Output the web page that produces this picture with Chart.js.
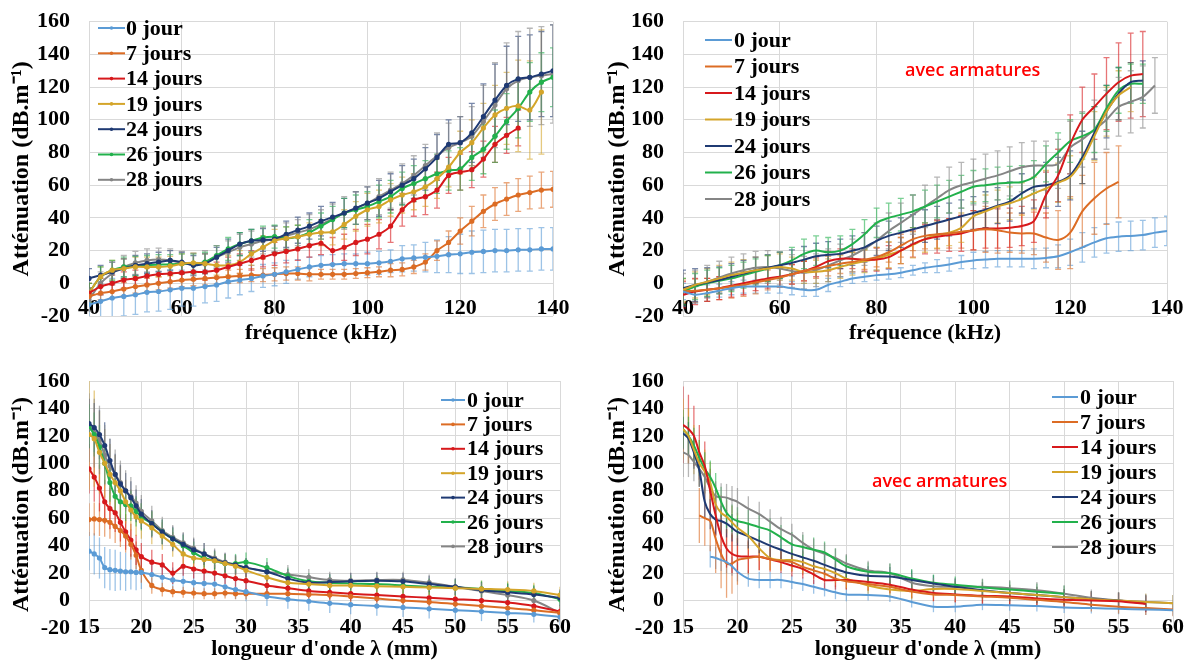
<!DOCTYPE html>
<html>
<head>
<meta charset="utf-8">
<script src="https://cdn.jsdelivr.net/npm/chart.js@4.4.0/dist/chart.umd.min.js"></script>
<style>
  body { margin: 0; background: #fff; width: 1192px; height: 663px; overflow: hidden; position: relative; }
  canvas { position: absolute; }
</style>
</head>
<body>
<canvas id="c1"></canvas>
<canvas id="c2"></canvas>
<canvas id="c3"></canvas>
<canvas id="c4"></canvas>
<script>
// series
const seriesNames = ['0 jour', '7 jours', '14 jours', '19 jours', '24 jours', '26 jours', '28 jours'];
const seriesColors = ['#5B9BD5', '#DC6C24', '#D7191C', '#D4A52A', '#1F3A73', '#22B14C', '#858585'];

// x values
const freq = [40, 42.5, 45, 47.5, 50, 52.5, 55, 57.5, 60, 62.5, 65, 67.5, 70, 72.5, 75, 77.5, 80, 82.5, 85, 87.5, 90,
  92.5, 95, 97.5, 100, 102.5, 105, 107.5, 110, 112.5, 115, 117.5, 120, 122.5, 125, 127.5, 130, 132.5, 135, 137.5, 140];
const lambda = [15, 15.5, 16, 16.5, 17, 17.5, 18, 18.5, 19, 19.5, 20, 21, 22, 23, 24, 25, 26, 27, 28, 29, 30,
  32, 34, 36, 38, 40, 42.5, 45, 47.5, 50, 52.5, 55, 57.5, 60];

// attenuation vs frequency, sans armatures
const freqSans = [
  [-13,-11,-9,-8,-7,-5.5,-5,-4,-3,-3,-2,-1,1,2,3,4.5,5.5,7,8.5,10,11,11.5,12,12,12,12.5,13.5,15,15.5,16,16.5,17.5,18,19,19.5,20,20,20.5,20.5,21,21],
  [-8,-6,-5,-3.5,-2,-1,0,1,2,2.5,3,3.5,4,4.5,5,5,5.5,6,6,5.5,5.5,5.5,5.5,6,6.5,7,8,8.5,10,13,20,25,32,38,44,48.5,51.5,54,55.5,57,57.5],
  [-6,-2,0,2,3,4.5,5.5,6,6.5,7,7,8,10,12,14,16,18,19.5,21,23,24.5,20,22,25,27,30,35,45,51,53,57,66,68,69.5,76,85,90.5,95,null,null,null],
  [-6,4,8,9,10,10,10,10.5,12,12.5,12,11,11,13,18,22,26,27.5,28.5,30,31,31.5,36,41,45,47,51,54,56,59,64,71,80,86,95,103,107,108.5,106,117,null],
  [3,5,7,9,11,12,13,14,13,11,12,16,20,24,26,26.5,27,30,32.5,35,38,40.5,43,46,49,52,56,60,64,70,77,85,86,92,102,112,121,125,126,128,130],
  [-6,4,8,10,10.5,11,11.5,11.5,12,12,13,17,21,24,26,28,28.5,27.5,28.5,31,35,39,43,45,47,50,53,58,61,64,67,69,70,77,82,90,99,107,117,123,126],
  [-10,0,6,10,12.5,14,14.5,14,12.5,11.5,13,16,19,22,24,26,27,29,31,33,36,39.5,43,46,49,53,57,61,66,72,78,83,86,90,99,109,119,124,126,127,128]
];
const freqSansErr = [
  [10,12,12,12,12,12,12,12,11,11,10,10,10,9,8,7,7,7,6,6,6,6,6,6,7,7,7,8,8,9,10,11,12,13,13,13,13,13,13,13,13],
  [5,4,4,4,4,4,4,4,4,4,4,4,4,4,4,4,4,4,4,4,3,3,3,3,3,3,4,4,4,5,6,7,8,9,10,10,10,10,10,11,11],
  [6,5,5,5,5,5,5,5,5,5,5,5,6,6,6,6,7,7,7,7,7,8,8,8,9,9,10,10,10,11,11,11,11,11,11,11,11,11,null,null,null],
  [6,6,6,6,6,6,6,6,6,6,6,6,6,7,7,7,7,7,7,7,8,8,9,9,10,10,10,11,11,12,12,12,13,14,15,18,22,28,30,38,null],
  [6,6,6,6,6,6,6,6,6,6,6,6,7,7,7,7,8,8,8,8,9,9,9,10,10,11,11,12,12,13,14,15,16,18,20,22,24,26,26,26,28],
  [6,6,6,6,6,6,6,6,6,6,6,6,7,7,7,7,7,7,7,8,8,8,9,9,9,10,10,10,11,11,12,12,13,14,15,16,17,18,18,18,18],
  [7,7,7,7,7,7,7,7,7,7,7,7,7,8,8,8,8,8,8,9,9,9,10,10,10,11,11,12,12,13,14,15,16,18,22,26,28,30,30,30,30]
];

// attenuation vs frequency, avec armatures
const freqArm = [
  [-5,-7,-6,-4.5,-3,-2,-2,-2,-2,-3,-4,-4,-1,1,3,4,5,5.5,6.5,8,9.5,10.5,11.5,13,14,14.5,15,15,15,15,15.5,16.5,19,22,25,27.5,28.5,29,29.5,31,32],
  [-5,-4.5,-4,-3,-2,-1,0.5,2,3.5,5.5,7.5,9,10.5,12,13,14.5,16,19,23,27,29,30,30.5,31.5,32.5,33,32.5,31,30.5,30.5,28,26.5,31,44,52,58,62,null,null,null,null],
  [-7,-5,-4,-3,-1.5,0,1.5,3,4,5.5,7.5,10,13.5,15,15,14.5,14.5,16,20,24,27,28.5,29.5,30.5,32.5,33.5,33.5,34,35,38,54,66,85,100,108,116,123,127,128,null,null],
  [-4,-1,1,3,5,6.5,8,9,10,9,7,7,8,10,12,13.5,15,17.5,20,23.5,27,29.5,31,34,41,44,47,49,51.5,55,58,61.5,65,75,90,105,115,120,null,null,null],
  [-3,-1,0.5,2,4,6,8,9.5,11,12.5,14.5,16.5,17.5,18,20,22,26,29,31,33,35,37,39,41,43,45,47.5,50,55,59,60,62,66,77,92,105,116,123,124,null,null],
  [-5,-2,0,1.5,3,5,7,9,11,14,18,20,19,20,24,30,37,40,42,44,47,50,53,56,59,60,61,61.5,62,65,73,80,87,90,94,107,118,122,122,null,null],
  [-4,-2,1,3.5,6,8,9.5,10,9,7.5,6.5,8,11,14,17,21,26,32,37,42,47,52,57,60,62,64,66,68.5,71,72,72,73,83,88,94,100,108,111,114,121,null]
];
const freqArmErr = [
  [5,5,5,4,4,4,4,4,4,4,4,4,4,3,3,3,3,3,3,3,3,4,4,4,5,5,5,5,5,6,6,7,8,9,9,9,9,9,9,9,9],
  [7,7,7,7,7,7,7,6,6,6,6,6,6,6,6,6,6,6,7,7,8,9,9,10,12,14,14,12,12,13,15,18,22,22,22,22,22,null,null,null,null],
  [8,8,7,7,7,7,6,6,6,6,6,6,6,6,6,7,7,7,8,8,9,10,10,11,12,12,12,12,12,13,14,16,18,20,20,22,24,26,26,null,null],
  [7,8,8,8,8,8,8,8,8,7,7,7,7,7,7,7,7,8,8,8,8,8,8,9,9,10,10,10,10,10,11,12,13,14,15,15,15,15,null,null,null],
  [11,10,9,8,8,8,8,8,8,8,8,8,8,9,9,9,9,9,9,9,10,10,10,10,10,11,11,12,12,13,14,15,15,16,16,16,16,12,12,null,null],
  [8,8,8,8,8,8,8,8,8,8,9,9,9,9,9,9,9,9,10,10,10,10,10,10,10,10,10,10,10,10,11,12,13,14,14,14,14,12,12,null,null],
  [10,10,10,10,10,10,10,10,10,10,10,10,10,10,10,10,11,11,12,12,13,13,14,14,14,15,15,15,15,15,15,15,16,17,18,18,18,19,19,17,null]
];

// attenuation vs wavelength, sans armatures
const lambdaSans = [
  [36,34,31,24,22.5,22,21.5,21,21,20.5,20.5,19,17,15,14,13,12.5,12,10,8,6.5,3,1,-0.5,-2,-3,-4,-5,-6,-7,-8,-9,-10,-12],
  [59,59.5,59,58.5,57,54,51,47,41,33,22,11,8,6.5,6,5.5,5,5,5.5,5,5,5,5,4.5,4,3,1.5,0,-1,-2.5,-4,-5.5,-7,-9],
  [96,90,82,72,67,64,57,50,44,37,32,28,26,20,25,23,21.5,20,18,16,14.5,11,9,7,6,5,4,3,2,1,0,-1.5,-4,-8],
  [121,118,108,100,92,86,80,72,66,61,58,53,47,41,34,31,30,29,27,25,22,17,13,12,11,11,10.5,10,9.5,9,8.5,8,7,4],
  [129,126,121,113,102,92,85,80,75,69,63,56,50,45,41,37,34,30,27.5,26,24,21,16,13,13.5,14,14.5,14,12,10,7.5,6,4.5,2],
  [127,121,112,100,86,76,72,70,69,65,61,56,50,45,40,35,31,29,27,27,28,24,18,14,13,12.5,12,11,10,9.5,8.5,7,5.5,1],
  [126,122,117,106,98,92,86,80,76,71,65,58,51,46,42,38,34,31,28,26,24,21,19,17,15,14.5,15,15,13,10,7,4,0,-9]
];
const lambdaSansErr = [
  [14,15,15,15,15,15,14,14,13,13,12,11,10,9,9,8,8,8,7,7,7,7,7,7,7,7,7,7,7,7,7,7,6,6],
  [12,12,12,12,12,12,12,12,11,10,9,6,5,4,4,4,4,4,4,4,4,4,4,4,4,4,4,4,4,4,4,4,4,4],
  [18,18,17,16,15,14,14,13,12,11,10,9,8,8,7,7,7,6,6,6,6,5,5,5,5,5,5,5,5,5,5,5,5,5],
  [40,35,30,25,22,20,18,16,15,14,13,12,10,9,8,8,7,7,7,7,7,6,6,6,6,6,6,6,6,6,6,6,6,6],
  [18,18,18,17,16,15,14,13,12,12,11,10,9,9,8,8,8,7,7,7,7,7,7,6,6,6,6,6,6,6,6,6,6,6],
  [16,16,16,15,14,13,12,12,11,11,10,9,9,8,8,8,7,7,7,7,7,7,6,6,6,6,6,6,6,6,6,6,6,6],
  [25,25,25,22,20,18,16,15,14,13,12,11,10,9,8,8,8,7,7,7,7,7,7,6,6,6,6,6,6,6,6,6,6,6]
];

// attenuation vs wavelength, avec armatures
const lambdaArm = [
  [null,null,null,null,null,32,31,29.5,28,25,21,16,15,15,15,13.5,12,10,8,6,4.5,4,3,-1,-4.5,-4.5,-3,-3.5,-4,-5,-5.5,-6,-6.5,-7],
  [null,null,null,62,60,58,45,34,27,27,29.5,31,32,30,29,28,24.5,22,19.5,16,14,12,10,6.5,4.5,4,3,2,0.5,-1,-3,-4.5,-5.5,-6.5],
  [128,125,120,108,98,80,62,47,38,34,32.5,32,32,30,28,25.5,23,19,15,15,15,13.5,11.5,8,5.5,4.5,3.5,3,1.5,0.5,0,-0.5,-2.5,null],
  [125,120,110,100,94,86,70,64,61,57,53,47,38,31,29.5,29.5,28,25,23,20,16,11,8,7,8.5,8.5,7,5.5,4,2.5,1,0,-1,-2],
  [122,118,108,95,72,63,59,58,56,53,50,47,43.5,40,37,34,31.5,29,26,23,20.5,18,17.5,15,12.5,10,7.5,5.5,4,2.5,1,0,-2,null],
  [125,120,113,104,96,90,82,72,64,60,58,56,53.5,51,46,41,39,37,35,30,25,21,20,16,13,11.5,9.5,8,6.5,5,null,null,null,null],
  [108,106,101,96,90,82,76,75.5,75,73.5,72,67,63,57.5,52,48,42,37,34,31,27,22,20,13,10.5,10,10,9,7.5,5,2,0,-1,-2]
];
const lambdaArmErr = [
  [null,null,null,null,null,8,8,8,8,7,7,6,6,6,6,5,5,5,5,5,5,4,4,4,4,4,4,4,4,4,4,4,4,4],
  [null,null,null,20,20,22,25,25,25,22,18,12,10,8,7,7,6,6,6,6,6,5,5,5,5,5,5,5,5,5,5,5,5,5],
  [28,25,22,20,18,16,15,15,14,14,13,12,10,9,8,8,7,7,7,7,7,6,6,6,6,6,6,6,6,6,6,6,6,null],
  [22,20,18,17,16,15,14,13,12,12,11,10,9,9,8,8,8,7,7,7,7,6,6,6,6,6,6,6,6,6,6,6,6,6],
  [12,12,12,12,12,11,11,11,10,10,10,9,9,9,8,8,8,8,7,7,7,7,7,7,6,6,6,6,6,6,6,6,6,null],
  [14,14,13,13,12,12,11,11,11,10,10,10,10,9,9,9,9,9,8,8,8,7,7,7,6,6,6,6,6,6,null,null,null,null],
  [18,16,14,13,12,11,11,10,10,10,10,9,9,9,9,8,8,8,8,7,7,7,7,6,6,6,6,6,6,6,6,6,6,6]
];

const yTicks = { min: -20, max: 160, step: 20 };
const noteText = 'avec armatures';

Chart.defaults.font.family = "'Liberation Serif', 'Times New Roman', serif";
Chart.defaults.font.weight = 'bold';
Chart.defaults.color = '#000';

// error bars behind the lines
const errorBars = {
  id: 'errorBars',
  beforeDatasetsDraw(chart, args, opts) {
    const { ctx, chartArea: a, scales: { x, y } } = chart;
    ctx.save();
    ctx.beginPath();
    ctx.rect(a.left, a.top, a.right - a.left, a.bottom - a.top);
    ctx.clip();
    ctx.lineWidth = 1.3;
    chart.data.datasets.forEach(ds => {
      ctx.strokeStyle = ds.borderColor + '99';
      ds.data.forEach((pt, k) => {
        const e = ds.errors[k];
        if (pt.y == null || e == null) return;
        const px = x.getPixelForValue(pt.x);
        const y1 = y.getPixelForValue(pt.y + e);
        const y2 = y.getPixelForValue(pt.y - e);
        ctx.beginPath();
        ctx.moveTo(px, y1);
        ctx.lineTo(px, y2);
        if (opts.caps) {
          ctx.moveTo(px - 3, y1); ctx.lineTo(px + 3, y1);
          ctx.moveTo(px - 3, y2); ctx.lineTo(px + 3, y2);
        }
        ctx.stroke();
      });
    });
    ctx.restore();
  }
};

// legend drawn inside the plot
const boxLegend = {
  id: 'boxLegend',
  afterDraw(chart, args, o) {
    const ctx = chart.ctx;
    ctx.save();
    ctx.font = "bold 22px 'Liberation Serif'";
    ctx.textBaseline = 'middle';
    chart.data.datasets.forEach((ds, i) => {
      const yy = o.y + i * o.dy;
      ctx.strokeStyle = ds.borderColor;
      ctx.lineWidth = 2;
      ctx.beginPath();
      ctx.moveTo(o.x1, yy);
      ctx.lineTo(o.x2, yy);
      ctx.stroke();
      if (o.markers) {
        ctx.fillStyle = ds.borderColor;
        ctx.beginPath();
        ctx.arc((o.x1 + o.x2) / 2, yy, 1.8, 0, Math.PI * 2);
        ctx.fill();
      }
      ctx.fillStyle = '#000';
      ctx.fillText(ds.label, o.tx, yy + 1);
    });
    ctx.restore();
  }
};

const note = {
  id: 'note',
  afterDraw(chart, args, o) {
    if (!o.show) return;
    const ctx = chart.ctx;
    ctx.save();
    ctx.font = "600 18px 'Open Sans'";
    ctx.fillStyle = '#FF0000';
    ctx.textBaseline = 'middle';
    ctx.fillText(noteText, o.x, o.y);
    ctx.restore();
  }
};

const panels = [
  { id: 'c1', left: 0, top: 0, w: 596, h: 347, area: [89, 553, 21.7, 316], xs: freq, vals: freqSans, errs: freqSansErr,
    xMin: 40, xMax: 140, xStep: 20, xTitle: 'fréquence (kHz)', xPad: -6, caps: true, markers: true,
    legend: { x1: 98, x2: 125, tx: 126, y: 28, dy: 25.3 }, note: null },
  { id: 'c2', left: 596, top: 0, w: 596, h: 347, area: [683, 1167, 21.7, 316], xs: freq, vals: freqArm, errs: freqArmErr,
    xMin: 40, xMax: 140, xStep: 20, xTitle: 'fréquence (kHz)', xPad: -6, caps: true, markers: false,
    legend: { x1: 705, x2: 732, tx: 734, y: 40, dy: 26.5 }, note: { x: 905, y: 71 } },
  { id: 'c3', left: 0, top: 340, w: 596, h: 323, area: [89, 560, 381, 628], xs: lambda, vals: lambdaSans, errs: lambdaSansErr,
    xMin: 15, xMax: 60, xStep: 5, xTitle: "longueur d'onde λ (mm)", xPad: -13, caps: false, markers: true,
    legend: { x1: 441, x2: 465, tx: 467, y: 400, dy: 24.4 }, note: null },
  { id: 'c4', left: 596, top: 340, w: 596, h: 323, area: [683, 1173, 381, 628], xs: lambda, vals: lambdaArm, errs: lambdaArmErr,
    xMin: 15, xMax: 60, xStep: 5, xTitle: "longueur d'onde λ (mm)", xPad: -13, caps: false, markers: false,
    legend: { x1: 1052, x2: 1078, tx: 1080, y: 397, dy: 25 }, note: { x: 872, y: 482 } }
];

panels.forEach(p => {
  const canvas = document.getElementById(p.id);
  canvas.width = p.w;
  canvas.height = p.h;
  canvas.style.left = p.left + 'px';
  canvas.style.top = p.top + 'px';
  const [L, R, T, B] = p.area;

  const datasets = seriesNames.map((name, i) => ({
    label: name,
    data: p.xs.map((x, k) => ({ x: x, y: p.vals[i][k] })),
    errors: p.errs[i],
    borderColor: seriesColors[i],
    backgroundColor: seriesColors[i],
    borderWidth: 2,
    pointRadius: p.markers ? 1.6 : 0,
    pointHoverRadius: 0,
    tension: 0.3
  }));

  new Chart(canvas, {
    type: 'line',
    data: { datasets },
    plugins: [errorBars, boxLegend, note],
    options: {
      responsive: false,
      animation: false,
      events: [],
      layout: { padding: { left: 0, top: T - p.top, right: p.left + p.w - R, bottom: 0 } },
      plugins: {
        legend: { display: false },
        tooltip: { enabled: false },
        errorBars: { caps: p.caps },
        boxLegend: {
          x1: p.legend.x1 - p.left, x2: p.legend.x2 - p.left, tx: p.legend.tx - p.left,
          y: p.legend.y - p.top, dy: p.legend.dy, markers: p.markers
        },
        note: p.note ? { show: true, x: p.note.x - p.left, y: p.note.y - p.top } : { show: false }
      },
      scales: {
        x: {
          type: 'linear', min: p.xMin, max: p.xMax,
          ticks: { stepSize: p.xStep, mirror: true, padding: p.xPad, maxRotation: 0, autoSkip: false, font: { size: 22, weight: 'bold' } },
          grid: { color: '#D9D9D9', lineWidth: 1, drawTicks: false },
          border: { display: false },
          title: { display: true, text: p.xTitle, font: { size: 22, weight: 'bold' }, padding: { top: 0, bottom: 0 } },
          afterFit(s) { s.height = p.top + p.h - B; s.paddingLeft = 0; s.paddingRight = 0; }
        },
        y: {
          min: yTicks.min, max: yTicks.max,
          ticks: { stepSize: yTicks.step, autoSkip: false, padding: 19, font: { size: 22, weight: 'bold' } },
          grid: { color: '#D9D9D9', lineWidth: 1, drawTicks: false },
          border: { display: false },
          title: { display: true, text: 'Atténuation (dB.m⁻¹)', font: { size: 24, weight: 'bold' }, padding: { top: 7, bottom: 0 } },
          afterFit(s) { s.width = L - p.left; s.paddingTop = 0; s.paddingBottom = 0; }
        }
      }
    }
  });
});
</script>
</body>
</html>
